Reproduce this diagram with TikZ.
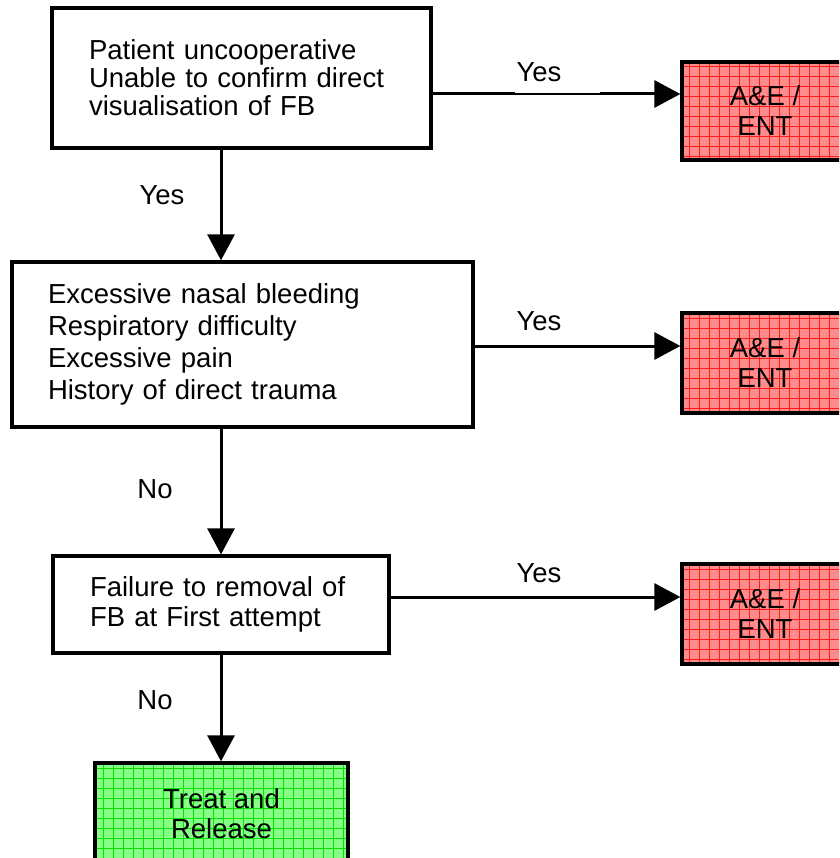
\documentclass[tikz,border=0pt]{standalone}
\usepackage{fontspec}
\setmainfont{Liberation Sans}
\usetikzlibrary{arrows.meta}
\definecolor{aefill}{RGB}{255,140,140}
\definecolor{aegrid}{RGB}{255,25,25}
\definecolor{okfill}{RGB}{135,255,135}
\definecolor{okgrid}{RGB}{0,230,0}
\tikzset{
  txt/.style={font=\fontsize{27.5}{30}\selectfont},
  qbox/.style={draw=black, line width=3.3pt, fill=white, inner sep=0pt, align=left},
  gridbox/.style 2 args={draw=black, line width=3.3pt, fill=#1, inner sep=0pt, align=center,
    font=\fontsize{27.5}{30}\selectfont,
    path picture={\draw[#2, line width=0.9pt] (path picture bounding box.south west) grid[step=10pt] (path picture bounding box.north east);}},
  conn/.style={line width=3pt, -{Triangle[length=26pt,width=27pt]}},
  lbl/.style={txt, inner sep=0pt}
}
\begin{document}
\begin{tikzpicture}[x=1pt,y=-1pt]
\useasboundingbox (0,0) rectangle (839,858);
\clip (0,0) rectangle (839,858);
\fill[white] (0,0) rectangle (839,858);

\node[qbox, font=\fontsize{27.5}{28}\selectfont, minimum width=379pt, minimum height=140pt, text width=305pt] (box1) at (241.5,78)
  {Patient uncooperative\\Unable to confirm direct\\visualisation of FB};
\node[qbox, font=\fontsize{27.5}{32}\selectfont, minimum width=461pt, minimum height=165pt, text width=389pt] (box2) at (242.5,344.5)
  {Excessive nasal bleeding\\Respiratory difficulty\\Excessive pain\\History of direct trauma};
\node[qbox, font=\fontsize{27.5}{30}\selectfont, minimum width=336pt, minimum height=97pt, text width=262pt] (box3) at (221,604.5)
  {Failure to removal of\\FB at First attempt};

\node[gridbox={aefill}{aegrid}, minimum width=166pt, minimum height=98pt] (ae1) at (765,111) {A\&E /\\ENT};
\node[gridbox={aefill}{aegrid}, minimum width=166pt, minimum height=100pt] (ae2) at (765,363) {A\&E /\\ENT};
\node[gridbox={aefill}{aegrid}, minimum width=166pt, minimum height=100pt] (ae3) at (765,614) {A\&E /\\ENT};
\node[gridbox={okfill}{okgrid}, minimum width=253pt, minimum height=101pt] (ok) at (221.5,813.5) {Treat and\\Release};

\coordinate (colx) at (221,0);
\coordinate (r1) at (0,94);
\coordinate (r2) at (0,346);
\coordinate (r3) at (0,597);

\draw[conn] (box1.south -| colx) -- (box2.north -| colx);
\draw[conn] (box2.south -| colx) -- (box3.north -| colx);
\draw[conn] (box3.south -| colx) -- (ok.north -| colx);

\draw[conn] (box1.east |- r1) -- (ae1.west |- r1);
\draw[conn] (box2.east |- r2) -- (ae2.west |- r2);
\draw[conn] (box3.east |- r3) -- (ae3.west |- r3);

\fill[white] (515,58) rectangle (600,93.3);
\node[lbl] (y1) at (539,72) {Yes};
\node[lbl] (y2) at (539,321) {Yes};
\node[lbl] (y3) at (539,573) {Yes};
\node[lbl] (y4) at (162,195) {Yes};
\node[lbl] (n1) at (155,489) {No};
\node[lbl] (n2) at (155,700) {No};
\end{tikzpicture}
\end{document}
